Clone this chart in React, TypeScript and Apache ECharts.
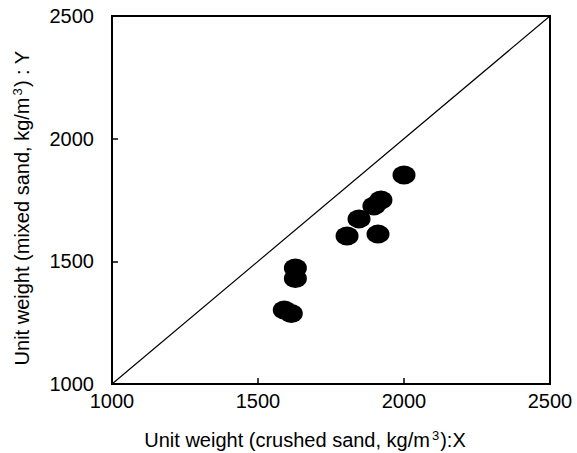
import React, { useEffect, useRef } from "react";
import * as echarts from "echarts";

// Unit weight of concrete: crushed sand (X) vs mixed sand (Y), kg/m³
const crushedSand = [1590, 1614, 1628, 1628, 1805, 1846, 1897, 1921, 1911, 2000];
const mixedSand = [1302, 1287, 1473, 1430, 1603, 1673, 1726, 1750, 1611, 1852];

// Line of equality Y = X
const equalityLine = [
  [1000, 1000],
  [2500, 2500],
];

const axisTicks = [1000, 1500, 2000, 2500];

const xTitle = ["Unit weight (crushed sand, kg/m", "3", "):X"];
const yTitle = ["Unit weight (mixed sand, kg/m", "3", ") : Y"];

const FONT = "'Liberation Sans', Arial, sans-serif";
const ellipse = "path://M0,10A10,10,0,1,1,20,10A10,10,0,1,1,0,10Z";

const titleRich = {
  a: { fontFamily: FONT, fontSize: 20, fill: "#000" },
  sup: { fontFamily: FONT, fontSize: 13, fill: "#000", verticalAlign: "top", padding: [0, 1, 9, 2] },
};

const richText = (parts: string[]) => `{a|${parts[0]}}{sup|${parts[1]}}{a|${parts[2]}}`;

export default function App() {
  const ref = useRef<HTMLDivElement>(null);

  useEffect(() => {
    if (!ref.current) return;
    const chart = echarts.init(ref.current, null, { renderer: "svg" });
    const points = crushedSand.map((x, i) => [x, mixedSand[i]]);
    const labelStyle = {
      color: "#000",
      fontFamily: FONT,
      fontSize: 20,
      formatter: (v: number) => String(v),
    };
    chart.setOption({
      animation: false,
      backgroundColor: "#fff",
      grid: {
        left: 112,
        right: 27,
        top: 16,
        bottom: 69,
        show: true,
        borderColor: "#000",
        borderWidth: 2,
      },
      xAxis: {
        type: "value",
        min: axisTicks[0],
        max: axisTicks[axisTicks.length - 1],
        interval: 500,
        axisLine: { show: true, lineStyle: { color: "#000", width: 2 } },
        axisTick: { show: true, inside: true, length: 6, lineStyle: { color: "#000", width: 1.5 } },
        axisLabel: { ...labelStyle, margin: 7 },
        splitLine: { show: false },
      },
      yAxis: {
        type: "value",
        min: axisTicks[0],
        max: axisTicks[axisTicks.length - 1],
        interval: 500,
        axisLine: { show: true, lineStyle: { color: "#000", width: 2 } },
        axisTick: { show: true, inside: true, length: 6, lineStyle: { color: "#000", width: 1.5 } },
        axisLabel: { ...labelStyle, margin: 18 },
        splitLine: { show: false },
      },
      graphic: [
        {
          type: "text",
          x: 305,
          y: 440,
          style: {
            text: richText(xTitle),
            rich: titleRich,
            align: "center",
            verticalAlign: "middle",
          },
        },
        {
          type: "text",
          x: 22,
          y: 208,
          rotation: Math.PI / 2,
          style: {
            text: richText(yTitle),
            rich: titleRich,
            align: "center",
            verticalAlign: "middle",
          },
        },
      ],
      series: [
        {
          type: "line",
          data: equalityLine,
          symbol: "none",
          lineStyle: { color: "#000", width: 1.2 },
          silent: true,
        },
        {
          type: "scatter",
          data: points,
          symbol: ellipse,
          symbolSize: [23, 19],
          itemStyle: { color: "#000", opacity: 1 },
        },
      ],
    });
    return () => chart.dispose();
  }, []);

  return (
    <div
      ref={ref}
      style={{ position: "fixed", left: 0, top: 0, width: 577, height: 453, background: "#fff" }}
    />
  );
}
